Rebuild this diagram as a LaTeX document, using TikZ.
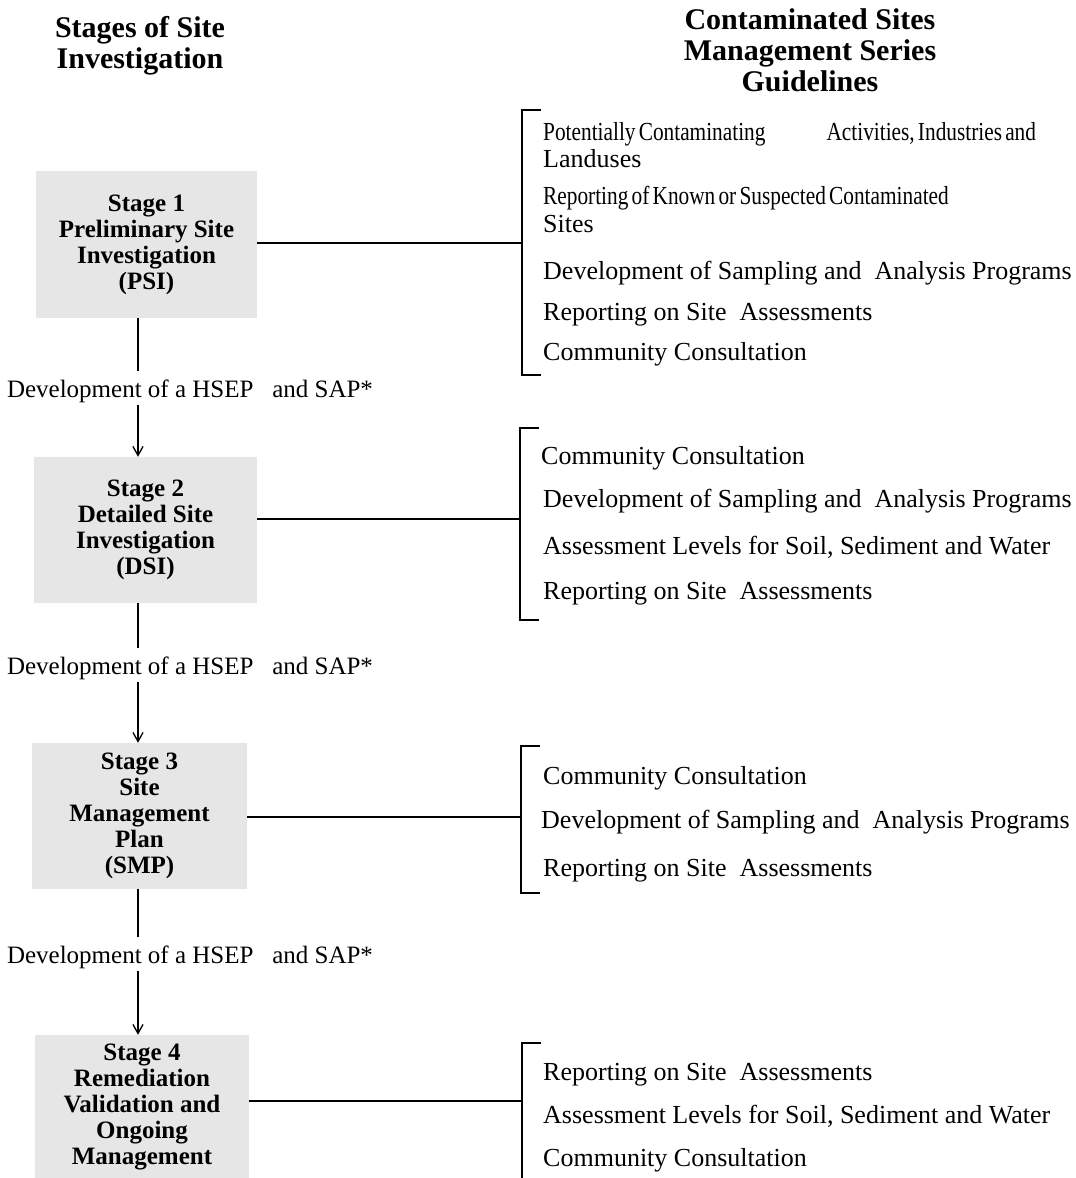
\documentclass[tikz,border=0pt]{standalone}
\usepackage{fontspec}
\setmainfont{Liberation Serif}
\newfontfamily\condfont[FakeStretch=0.82,WordSpace=0.6]{Liberation Serif}
\usetikzlibrary{arrows.meta}
\definecolor{boxgray}{HTML}{E6E6E6}
\begin{document}
\begin{tikzpicture}[x=1pt,y=-1pt,
  stagebox/.style={fill=boxgray, draw=none, align=center, inner sep=0pt,
    font=\fontsize{25}{26}\selectfont\bfseries},
  head/.style={align=center, inner sep=0pt, font=\fontsize{30}{31}\selectfont\bfseries},
  item/.style={anchor=base west, inner sep=0pt, font=\fontsize{26}{28}\selectfont},
  conn/.style={line width=1.3pt},
  arr/.style={conn, -{Straight Barb[length=9pt,width=10pt,line width=1.3pt]}},
  hsep/.style={anchor=base, inner sep=0pt, text height=26pt, text depth=7.5pt,
    font=\fontsize{25}{26}\selectfont}]
\useasboundingbox (0,0) rectangle (1076,1178);

% headings
\node[head] (hl) at (140,45.5) {Stages of Site\\Investigation};
\node[head] (hr) at (810,50.5) {Contaminated Sites\\Management Series\\Guidelines};

% stage boxes
\node[stagebox, minimum width=221pt, minimum height=147pt] (s1) at (146.5,244.5)
  {Stage 1\\Preliminary Site\\Investigation\\(PSI)};
\node[stagebox, minimum width=223pt, minimum height=146pt] (s2) at (145.5,530)
  {Stage 2\\Detailed Site\\Investigation\\(DSI)};
\node[stagebox, minimum width=215pt, minimum height=146pt] (s3) at (139.5,816)
  {Stage 3\\Site\\Management\\Plan\\(SMP)};
\node[stagebox, minimum width=214pt, minimum height=143pt] (s4) at (142,1106.5)
  {Stage 4\\Remediation\\Validation and\\Ongoing\\Management};

% HSEP labels
\node[hsep] (l1) at (190,397) {Development of a HSEP\ \ \ and SAP*};
\node[hsep] (l2) at (190,674) {Development of a HSEP\ \ \ and SAP*};
\node[hsep] (l3) at (190,963) {Development of a HSEP\ \ \ and SAP*};

\coordinate (ax) at (138,0);
\draw[conn] (s1.south -| ax) -- (l1.north -| ax);
\draw[arr] (l1.south -| ax) -- (s2.north -| ax);
\draw[conn] (s2.south -| ax) -- (l2.north -| ax);
\draw[arr] (l2.south -| ax) -- (s3.north -| ax);
\draw[conn] (s3.south -| ax) -- (l3.north -| ax);
\draw[arr] (l3.south -| ax) -- (s4.north -| ax);

% connectors to brackets
\coordinate (b1) at (522,243);
\coordinate (b2) at (520,519);
\coordinate (b3) at (521,817);
\coordinate (b4) at (522,1101);
\draw[conn] (s1.east |- b1) -- (b1);
\draw[conn] (s2.east |- b2) -- (b2);
\draw[conn] (s3.east |- b3) -- (b3);
\draw[conn] (s4.east |- b4) -- (b4);

% brackets
\draw[conn] (541,110) -- (522,110) -- (522,375) -- (541,375);
\draw[conn] (539,428) -- (520,428) -- (520,620) -- (539,620);
\draw[conn] (540,746) -- (521,746) -- (521,893) -- (540,893);
\draw[conn] (541,1043) -- (522,1043) -- (522,1178);

% group 1
\node[item] (a1) at (543,140) {\condfont Potentially Contaminating\hspace{61pt}Activities, Industries and};
\node[item] (a2) at (543,167) {Landuses};
\node[item] (a3) at (543,204) {\condfont Reporting of Known or Suspected Contaminated};
\node[item] (a4) at (543,232) {Sites};
\node[item] (a5) at (543,279) {Development of Sampling and\ \ Analysis Programs};
\node[item] (a6) at (543,320) {Reporting on Site\ \ Assessments};
\node[item] (a7) at (543,360) {Community Consultation};

% group 2
\node[item] (c1) at (541,464) {Community Consultation};
\node[item] (c2) at (543,507) {Development of Sampling and\ \ Analysis Programs};
\node[item] (c3) at (543,554) {Assessment Levels for Soil, Sediment and Water};
\node[item] (c4) at (543,599) {Reporting on Site\ \ Assessments};

% group 3
\node[item] (d1) at (543,784) {Community Consultation};
\node[item] (d2) at (541,828) {Development of Sampling and\ \ Analysis Programs};
\node[item] (d3) at (543,876) {Reporting on Site\ \ Assessments};

% group 4
\node[item] (e1) at (543,1080) {Reporting on Site\ \ Assessments};
\node[item] (e2) at (543,1123) {Assessment Levels for Soil, Sediment and Water};
\node[item] (e3) at (543,1166) {Community Consultation};
\end{tikzpicture}
\end{document}
